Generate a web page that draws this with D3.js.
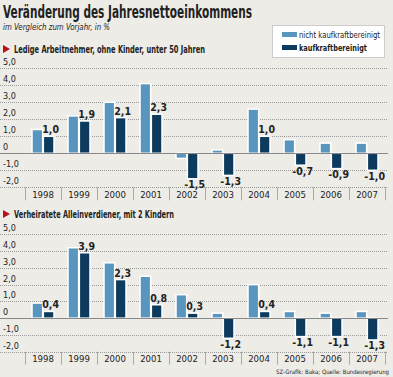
<!DOCTYPE html>
<html lang="de">
  <head>
    <meta charset="utf-8" />
    <title>Veränderung des Jahresnettoeinkommens</title>
    <script src="https://d3js.org/d3.v7.js"></script>
    <style>
      body { margin: 0; background: #eeece7; }
      text { font-family: "Liberation Sans Narrow", "DejaVu Sans Condensed", "Liberation Sans", sans-serif; fill: #222; }
    </style>
  </head>
  <body>
    <script>

    // data
    var years = ["1998", "1999", "2000", "2001", "2002", "2003", "2004", "2005", "2006", "2007"];
    var series = ["nicht kaufkraftbereinigt", "kaufkraftbereinigt"];
    var ledigNicht = [1.4, 2.2, 3.0, 4.1, -0.3, 0.2, 2.6, 0.8, 0.6, 0.6];
    var ledigKauf = [1.0, 1.9, 2.1, 2.3, -1.5, -1.3, 1.0, -0.7, -0.9, -1.0];
    var verhNicht = [0.9, 4.2, 3.3, 2.5, 1.4, 0.3, 2.0, 0.4, 0.3, 0.4];
    var verhKauf = [0.4, 3.9, 2.3, 0.8, 0.3, -1.2, 0.4, -1.1, -1.1, -1.3];
    var yTicks = [5, 4, 3, 2, 1, 0, -1, -2];

    var w = 393, h = 377;
    var colors = {"nicht kaufkraftbereinigt": "#5896bf", "kaufkraftbereinigt": "#0d3b5d"};
    var fmt = d => d === 0 ? "0" : d.toFixed(1).replace(".", ",");

    var svg = d3.select("body")
      .append("svg")
        .attr("width", w)
        .attr("height", h);

    svg.append("rect").attr("width", w).attr("height", h).attr("fill", "#eeece7");

    // title
    svg.append("text")
      .attr("x", 3).attr("y", 18)
      .attr("font-size", 17).attr("font-weight", "bold")
      .attr("textLength", 249).attr("lengthAdjust", "spacingAndGlyphs")
      .text("Veränderung des Jahresnettoeinkommens");

    svg.append("text")
      .attr("x", 3).attr("y", 30)
      .attr("font-size", 9).attr("font-style", "italic")
      .attr("textLength", 107).attr("lengthAdjust", "spacingAndGlyphs")
      .text("im Vergleich zum Vorjahr, in %");

    // legend
    var legend = svg.append("g");
    legend.append("rect")
      .attr("x", 272.5).attr("y", 25.5).attr("width", 112).attr("height", 32)
      .attr("fill", "#fff").attr("stroke", "#ccc");
    series.forEach(function(s, i) {
      legend.append("rect")
        .attr("x", 282).attr("y", 32 + i * 13).attr("width", 15).attr("height", 5)
        .attr("fill", colors[s]);
      legend.append("text")
        .attr("x", 299).attr("y", 38 + i * 13)
        .attr("font-size", 8.5)
        .attr("font-weight", i === 1 ? "bold" : "normal")
        .attr("textLength", i === 0 ? 81 : 68).attr("lengthAdjust", "spacingAndGlyphs")
        .text(s);
    });

    var x = d3.scaleBand()
      .domain(years)
      .range([25, 385]);

    var xInner = d3.scaleBand()
      .domain(series)
      .range([7, 29])
      .paddingInner(0.06);

    function panel(heading, headingLen, headY, nicht, kauf, y0, y1) {
      var g = svg.append("g");

      g.append("path")
        .attr("d", `M3,${headY - 8}L10,${headY - 4}L3,${headY}Z`)
        .attr("fill", "#b5121b");
      g.append("text")
        .attr("x", 14).attr("y", headY)
        .attr("font-size", 11).attr("font-weight", "bold")
        .attr("textLength", headingLen).attr("lengthAdjust", "spacingAndGlyphs")
        .text(heading);

      var y = d3.scaleLinear()
        .domain([-2, 5])
        .range([y1, y0]);

      // gridlines
      g.selectAll(".grid")
        .data(yTicks.filter(d => d !== 0))
        .join("line")
          .attr("x1", 0).attr("x2", 388)
          .attr("y1", d => Math.round(y(d)) + 0.5).attr("y2", d => Math.round(y(d)) + 0.5)
          .attr("stroke", "#999").attr("stroke-dasharray", "1,1");

      g.selectAll(".ylab")
        .data(yTicks)
        .join("text")
          .attr("x", 3).attr("y", d => y(d) - 3)
          .attr("font-size", 9).attr("fill", "#333")
          .text(fmt);

      // year separators and labels
      g.selectAll(".sep")
        .data(years.concat(["end"]))
        .join("line")
          .attr("x1", (d, i) => Math.round(25 + i * x.bandwidth()) + 0.5)
          .attr("x2", (d, i) => Math.round(25 + i * x.bandwidth()) + 0.5)
          .attr("y1", y(-2)).attr("y2", y(-2) + 13)
          .attr("stroke", "#aaa");

      g.selectAll(".year")
        .data(years)
        .join("text")
          .attr("x", d => x(d) + x.bandwidth() / 2).attr("y", y(-2) + 10.5)
          .attr("text-anchor", "middle").attr("font-size", 9.5)
          .text(d => d);

      var rows = years.map((yr, i) => ({year: yr, values: [
        {key: series[0], v: nicht[i]},
        {key: series[1], v: kauf[i]}
      ]}));

      var grp = g.selectAll(".yr")
        .data(rows)
        .join("g")
          .attr("transform", d => `translate(${x(d.year)},0)`);

      grp.selectAll("rect")
        .data(d => d.values)
        .join("rect")
          .attr("x", d => xInner(d.key))
          .attr("width", xInner.bandwidth())
          .attr("y", d => y(Math.max(0, d.v)))
          .attr("height", d => Math.abs(y(d.v) - y(0)))
          .attr("fill", d => colors[d.key])
          .attr("stroke", "#fff").attr("stroke-width", 1.5);

      // zero line
      g.append("line")
        .attr("x1", 0).attr("x2", 388)
        .attr("y1", Math.round(y(0)) + 0.5).attr("y2", Math.round(y(0)) + 0.5)
        .attr("stroke", "#888");

      grp.append("text")
        .attr("x", xInner(series[1]) + xInner.bandwidth() / 2 + 2)
        .attr("y", d => {
          var v = d.values[1].v;
          return v >= 0 ? y(v) - 3 : y(v) + 9.5;
        })
        .attr("text-anchor", "middle")
        .attr("font-size", 10.5).attr("font-weight", "bold")
        .text(d => fmt(d.values[1].v));
    }

    panel("Ledige Arbeitnehmer, ohne Kinder, unter 50 Jahren", 191, 53, ledigNicht, ledigKauf, 68.3, 187.3);
    panel("Verheiratete Alleinverdiener, mit 2 Kindern", 160, 218, verhNicht, verhKauf, 234.3, 351.7);

    svg.append("text")
      .attr("x", 389).attr("y", 374)
      .attr("text-anchor", "end").attr("font-size", 6).attr("fill", "#444")
      .text("SZ-Grafik: Baka; Quelle: Bundesregierung");

    </script>
  </body>
</html>
